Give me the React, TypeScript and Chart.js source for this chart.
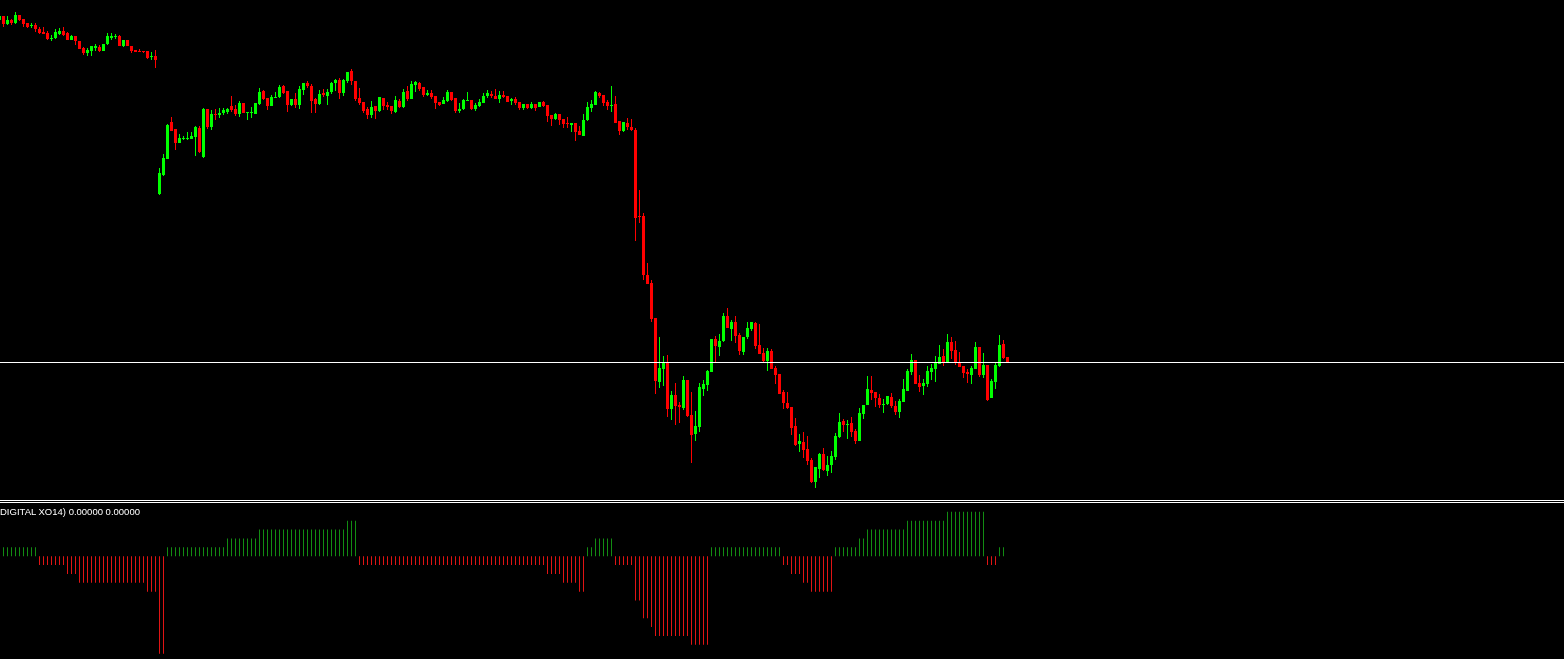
import React, { useEffect, useRef } from "react";
import { Chart, registerables } from "chart.js";

Chart.register(...registerables);

// ---- candle data (price points), one entry per bar, oldest first ----
const OPEN = [
  480, 484, 476, 480, 477, 485, 481, 477, 474, 475,
  471, 468, 467, 461, 462, 466, 469, 467, 460, 464,
  459, 452, 447, 449, 452, 453, 449, 456, 462, 463,
  464, 454, 460, 454, 450, 449, 449, 449, 443, 444,
  306, 325, 341, 378, 371, 357, 361, 361, 361, 363,
  372, 343, 391, 373, 386, 385, 387, 388, 394, 391,
  386, 397, 387, 387, 386, 396, 409, 402, 394, 402,
  403, 414, 409, 395, 401, 395, 410, 417, 414, 401,
  396, 407, 404, 408, 417, 420, 407, 419, 429, 419,
  402, 398, 391, 385, 394, 389, 402, 395, 394, 388,
  399, 393, 409, 401, 415, 417, 413, 405, 407, 404,
  398, 396, 399, 408, 402, 389, 391, 399, 400, 391,
  394, 397, 404, 406, 404, 401, 405, 404, 399, 401,
  398, 392, 396, 392, 396, 393, 398, 395, 385, 381,
  386, 381, 377, 375, 377, 369, 364, 380, 392, 395,
  407, 405, 398, 394, 396, 379, 369, 377, 373, 370,
  284, 284, 225, 217, 182, 118, 131, 137, 91, 105,
  95, 92, 120, 85, 66, 73, 111, 115, 128, 161,
  153, 159, 184, 171, 178, 165, 148, 163, 171, 177,
  155, 147, 139, 149, 132, 126, 108, 97, 93, 74,
  56, 58, 51, 40, 18, 31, 46, 29, 35, 43,
  63, 79, 75, 77, 69, 59, 86, 95, 110, 108,
  102, 95, 96, 103, 94, 88, 98, 109, 128, 140,
  117, 114, 116, 128, 131, 136, 144, 138, 158, 150,
  137, 134, 128, 125, 131, 153, 125, 135, 102, 118,
  134, 156, 143,
];

const HIGH = [
  485, 484, 484, 481, 488, 485, 481, 477, 477, 477,
  473, 473, 469, 465, 471, 472, 473, 468, 465, 464,
  459, 453, 452, 454, 456, 455, 456, 467, 467, 466,
  465, 460, 460, 454, 450, 451, 449, 449, 448, 450,
  332, 346, 376, 383, 371, 366, 364, 368, 368, 374,
  374, 392, 391, 390, 391, 392, 392, 392, 404, 395,
  399, 397, 388, 393, 397, 412, 410, 402, 405, 408,
  415, 415, 409, 401, 407, 414, 417, 419, 416, 402,
  410, 411, 411, 418, 421, 422, 421, 428, 431, 419,
  412, 398, 393, 399, 394, 403, 402, 398, 394, 404,
  401, 411, 414, 419, 419, 418, 413, 410, 410, 404,
  398, 403, 410, 408, 402, 397, 401, 408, 400, 397,
  401, 407, 410, 409, 411, 409, 409, 404, 402, 403,
  398, 396, 396, 398, 396, 398, 399, 395, 385, 387,
  386, 381, 383, 377, 377, 374, 386, 398, 400, 409,
  408, 405, 400, 414, 404, 379, 378, 382, 381, 372,
  310, 287, 237, 220, 182, 163, 144, 145, 109, 117,
  98, 124, 120, 108, 89, 117, 120, 130, 161, 164,
  166, 187, 192, 180, 184, 167, 163, 178, 178, 178,
  176, 152, 152, 151, 134, 126, 110, 108, 93, 82,
  66, 68, 64, 42, 33, 47, 52, 44, 49, 67,
  87, 81, 80, 83, 71, 92, 95, 124, 124, 108,
  106, 101, 104, 107, 99, 101, 121, 131, 146, 140,
  125, 121, 134, 136, 144, 155, 151, 166, 163, 159,
  148, 134, 131, 134, 158, 153, 147, 135, 121, 137,
  165, 160, 143,
];

const LOW = [
  479, 473, 475, 475, 476, 479, 473, 472, 472, 468,
  466, 466, 460, 459, 461, 465, 464, 460, 460, 455,
  451, 445, 444, 444, 449, 448, 449, 455, 460, 461,
  454, 453, 454, 447, 448, 448, 447, 441, 440, 432,
  305, 324, 341, 369, 350, 357, 360, 360, 361, 344,
  347, 342, 371, 370, 380, 382, 385, 386, 388, 384,
  383, 387, 380, 382, 386, 395, 400, 390, 394, 402,
  402, 406, 388, 394, 392, 391, 405, 412, 387, 387,
  395, 403, 395, 406, 409, 401, 404, 417, 415, 399,
  395, 387, 381, 382, 381, 388, 390, 390, 386, 387,
  392, 392, 399, 401, 408, 409, 403, 404, 401, 391,
  394, 396, 398, 399, 387, 387, 390, 399, 390, 389,
  393, 397, 402, 402, 401, 397, 402, 398, 395, 395,
  390, 390, 391, 391, 389, 393, 393, 378, 374, 380,
  375, 372, 372, 368, 359, 365, 364, 379, 388, 395,
  402, 394, 390, 388, 377, 365, 368, 370, 369, 259,
  277, 220, 216, 178, 106, 112, 114, 83, 80, 75,
  77, 90, 83, 37, 59, 68, 104, 109, 128, 138,
  144, 158, 172, 159, 157, 145, 145, 161, 169, 151,
  146, 138, 129, 131, 116, 106, 91, 91, 65, 54,
  48, 42, 35, 17, 12, 22, 29, 24, 27, 40,
  62, 68, 61, 63, 56, 59, 81, 95, 100, 93,
  92, 87, 95, 92, 85, 82, 98, 109, 125, 116,
  108, 105, 113, 120, 118, 136, 134, 137, 141, 135,
  133, 122, 117, 116, 131, 123, 122, 99, 102, 111,
  133, 141, 137,
];

const CLOSE = [
  484, 476, 480, 477, 485, 480, 476, 473, 475, 471,
  467, 466, 461, 462, 468, 469, 465, 460, 464, 459,
  451, 447, 450, 454, 454, 449, 456, 464, 464, 464,
  454, 460, 454, 449, 448, 448, 448, 442, 444, 440,
  327, 342, 375, 369, 357, 362, 362, 362, 364, 373,
  348, 391, 373, 386, 385, 387, 390, 391, 390, 386,
  397, 387, 388, 388, 397, 408, 401, 394, 403, 403,
  413, 407, 395, 401, 395, 411, 417, 414, 399, 396,
  406, 405, 408, 417, 420, 407, 420, 428, 419, 401,
  397, 389, 385, 393, 389, 403, 394, 393, 389, 400,
  393, 408, 401, 416, 418, 411, 405, 407, 403, 397,
  395, 400, 408, 400, 389, 391, 400, 400, 391, 395,
  398, 404, 407, 404, 401, 405, 403, 398, 401, 397,
  392, 396, 392, 396, 392, 398, 394, 384, 381, 386,
  380, 376, 376, 377, 368, 365, 380, 393, 396, 408,
  404, 397, 394, 395, 377, 369, 378, 373, 370, 282,
  283, 225, 216, 181, 119, 132, 137, 91, 105, 94,
  93, 120, 84, 65, 74, 113, 116, 129, 161, 154,
  159, 184, 172, 178, 164, 149, 163, 172, 178, 154,
  146, 139, 149, 131, 125, 106, 97, 92, 72, 55,
  59, 50, 39, 18, 33, 46, 30, 35, 44, 64,
  78, 75, 76, 68, 59, 87, 95, 111, 107, 102,
  95, 96, 104, 94, 88, 99, 111, 129, 140, 116,
  113, 117, 129, 132, 137, 143, 137, 158, 149, 137,
  133, 127, 126, 132, 153, 125, 135, 100, 119, 135,
  155, 142, 137,
];

// ---- DIGITAL XO(14) indicator values, same bars as above ----
const XO: (number | null)[] = [
  null, 1, 1, 1, 1, 1, 1, 1, 1, 1,
  -1, -1, -1, -1, -1, -1, -1, -2, -2, -2,
  -3, -3, -3, -3, -3, -3, -3, -3, -3, -3,
  -3, -3, -3, -3, -3, -3, -3, -4, -4, -4,
  -11, -11, 1, 1, 1, 1, 1, 1, 1, 1,
  1, 1, 1, 1, 1, 1, 1, 2, 2, 2,
  2, 2, 2, 2, 2, 3, 3, 3, 3, 3,
  3, 3, 3, 3, 3, 3, 3, 3, 3, 3,
  3, 3, 3, 3, 3, 3, 3, 4, 4, 4,
  -1, -1, -1, -1, -1, -1, -1, -1, -1, -1,
  -1, -1, -1, -1, -1, -1, -1, -1, -1, -1,
  -1, -1, -1, -1, -1, -1, -1, -1, -1, -1,
  -1, -1, -1, -1, -1, -1, -1, -1, -1, -1,
  -1, -1, -1, -1, -1, -1, -1, -2, -2, -2,
  -2, -3, -3, -3, -3, -4, -4, 1, 1, 2,
  2, 2, 2, 2, -1, -1, -1, -1, -1, -5,
  -5, -7, -7, -8, -9, -9, -9, -9, -9, -9,
  -9, -9, -9, -10, -10, -10, -10, -10, 1, 1,
  1, 1, 1, 1, 1, 1, 1, 1, 1, 1,
  1, 1, 1, 1, 1, 1, -1, -1, -2, -2,
  -2, -3, -3, -4, -4, -4, -4, -4, -4, 1,
  1, 1, 1, 1, 1, 2, 2, 3, 3, 3,
  3, 3, 3, 3, 3, 3, 3, 4, 4, 4,
  4, 4, 4, 4, 4, 4, 4, 5, 5, 5,
  5, 5, 5, 5, 5, 5, 5, -1, -1, -1,
  1, 1, null,
];

const BID_LEVEL = 137.5;
const PRICE_MIN = 0;
const PRICE_MAX = 500;
const XO_MIN = -11.6;
const XO_MAX = 6;
const LABEL = "DIGITAL XO14) 0.00000 0.00000";

// view window in bar units (chart shift leaves empty space on the right)
const X_MIN = 0.125;
const X_MAX = 391.125;

const W = 1564;
const MAIN_H = 500;
const SUB_TOP = 503;
const SUB_H = 156;

const BG = "#000000";
const BULL = "#00FF00";
const BEAR = "#FF0000";
const XO_UP = "#128C12";
const XO_DOWN = "#E01414";

export default function App() {
  const mainRef = useRef<HTMLCanvasElement>(null);
  const subRef = useRef<HTMLCanvasElement>(null);

  useEffect(() => {
    document.body.style.margin = "0";
    document.body.style.background = BG;
    const idx = OPEN.map((_, i) => i);
    const colors = idx.map((i) => (CLOSE[i] >= OPEN[i] ? BULL : BEAR));
    const xScale: any = {
      type: "linear",
      display: false,
      min: X_MIN,
      max: X_MAX,
      offset: false,
      bounds: "data",
    };
    const common: any = {
      responsive: false,
      animation: false,
      devicePixelRatio: 1,
      events: [],
      layout: { padding: 0 },
      plugins: { legend: { display: false }, tooltip: { enabled: false }, title: { display: false } },
    };

    const main = new Chart(mainRef.current!, {
      type: "bar",
      data: {
        datasets: [
          {
            type: "line",
            data: [
              { x: X_MIN, y: BID_LEVEL },
              { x: X_MAX, y: BID_LEVEL },
            ],
            borderColor: "#FFFFFF",
            borderWidth: 1,
            pointRadius: 0,
            fill: false,
            order: 0,
          } as any,
          {
            data: idx.map((i) => ({ x: i, y: [LOW[i], HIGH[i]] })),
            backgroundColor: colors,
            barThickness: 1,
            grouped: false,
            inflateAmount: 0,
            borderWidth: 0,
            order: 2,
          } as any,
          {
            data: idx.map((i) => {
              const lo = Math.min(OPEN[i], CLOSE[i]);
              const hi = Math.max(OPEN[i], CLOSE[i]);
              return { x: i, y: [lo, hi === lo ? lo + 1 : hi] };
            }),
            backgroundColor: colors,
            barThickness: 3,
            grouped: false,
            inflateAmount: 0,
            borderWidth: 0,
            order: 1,
          } as any,
        ],
      },
      options: {
        ...common,
        scales: {
          x: xScale,
          y: { type: "linear", display: false, min: PRICE_MIN, max: PRICE_MAX },
        },
      },
    });

    const xoIdx = idx.filter((i) => XO[i] !== null);
    const sub = new Chart(subRef.current!, {
      type: "bar",
      data: {
        datasets: [
          {
            data: xoIdx.map((i) => ({ x: i, y: XO[i] as number })),
            backgroundColor: xoIdx.map((i) => ((XO[i] as number) > 0 ? XO_UP : XO_DOWN)),
            barThickness: 1,
            grouped: false,
            inflateAmount: 0,
            borderWidth: 0,
          } as any,
        ],
      },
      options: {
        ...common,
        scales: {
          x: { ...xScale },
          y: { type: "linear", display: false, min: XO_MIN, max: XO_MAX },
        },
      },
    });

    return () => {
      main.destroy();
      sub.destroy();
    };
  }, []);

  return (
    <div
      style={{
        position: "relative",
        width: W,
        height: 659,
        background: BG,
        overflow: "hidden",
      }}
    >
      <canvas
        ref={mainRef}
        width={W}
        height={MAIN_H}
        style={{ position: "absolute", left: 0, top: 0, width: W, height: MAIN_H, display: "block" }}
      />
      <div style={{ position: "absolute", left: 0, top: 500, width: W, height: 1, background: "#FFFFFF" }} />
      <div style={{ position: "absolute", left: 0, top: 502, width: W, height: 1, background: "#FFFFFF" }} />
      <canvas
        ref={subRef}
        width={W}
        height={SUB_H}
        style={{ position: "absolute", left: 0, top: SUB_TOP, width: W, height: SUB_H, display: "block" }}
      />
      <div
        style={{
          position: "absolute",
          left: 0,
          top: 507,
          fontFamily: '"Liberation Sans", Arial, sans-serif',
          fontSize: "9.5px",
          lineHeight: "10px",
          color: "#FFFFFF",
          whiteSpace: "nowrap",
        }}
      >
        {LABEL}
      </div>
    </div>
  );
}
